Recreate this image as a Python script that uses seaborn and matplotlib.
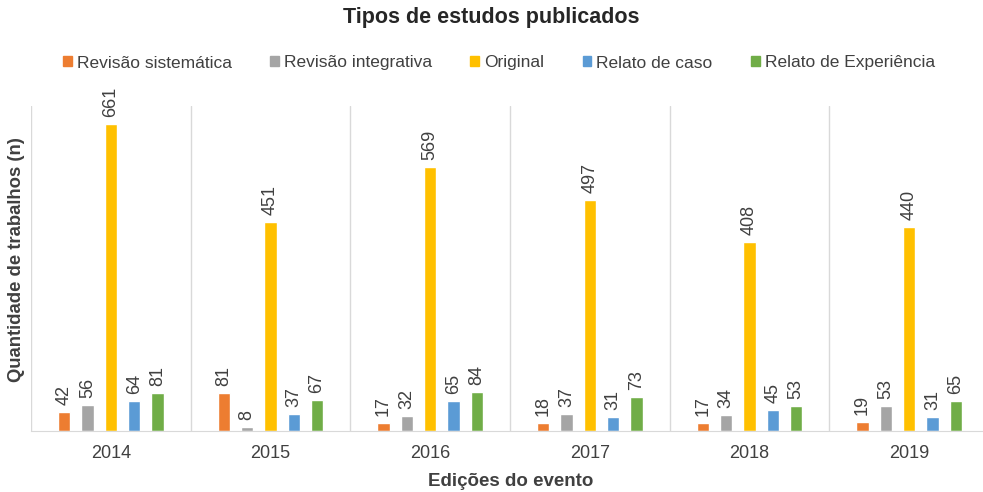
import pandas as pd
import seaborn as sns
import matplotlib
matplotlib.use("Agg")
from matplotlib import pyplot as plt
from matplotlib.patches import Patch

# data
anos = ["2014", "2015", "2016", "2017", "2018", "2019"]
tipos = ["Revisão sistemática", "Revisão integrativa", "Original", "Relato de caso", "Relato de Experiência"]
revisao_sistematica = [42, 81, 17, 18, 17, 19]
revisao_integrativa = [56, 8, 32, 37, 34, 53]
original = [661, 451, 569, 497, 408, 440]
relato_caso = [64, 37, 65, 31, 45, 31]
relato_experiencia = [81, 67, 84, 73, 53, 65]
cores = ["#ED7D31", "#A5A5A5", "#FFC000", "#5B9BD5", "#70AD47"]

series = [revisao_sistematica, revisao_integrativa, original, relato_caso, relato_experiencia]
linhas = []
for tipo, valores in zip(tipos, series):
    for ano, v in zip(anos, valores):
        linhas.append({"ano": ano, "tipo": tipo, "n": v})
df = pd.DataFrame(linhas)

sns.set_style("white")
plt.rcParams["font.family"] = ["Liberation Sans", "DejaVu Sans"]

fig = plt.figure(figsize=(9.83, 4.92), dpi=100)
ax = fig.add_axes([31/983, 1-431/492, 958/983, 325/492])

sns.barplot(data=df, x="ano", y="n", hue="tipo", hue_order=tipos, order=anos,
            palette=cores, width=0.73, gap=0.48, saturation=1, ax=ax, legend=False)

for c in ax.containers:
    ax.bar_label(c, rotation=90, padding=5, fontsize=13, color="#404040")

ax.set_ylim(0, 700)
ax.set_xlim(-0.5, 5.5)
ax.set_yticks([])
for i in range(6):
    ax.axvline(i - 0.5, color="#D9D9D9", lw=1, zorder=0)
for s in ["top", "right", "left"]:
    ax.spines[s].set_visible(False)
ax.spines["bottom"].set_color("#D9D9D9")
ax.tick_params(axis="x", length=0, pad=10, labelsize=13, labelcolor="#404040")

ax.set_xlabel("Edições do evento", fontsize=13.5, fontweight="bold", color="#404040")
ax.set_ylabel("Quantidade de trabalhos (n)", fontsize=13.3, fontweight="bold", color="#404040")
ax.xaxis.set_label_coords(0.5 + (511 - 510) / 958, -(482 - 431) / 325)
ax.yaxis.set_label_coords(-(31 - 17) / 958, (431 - 260) / 325)
ax.xaxis.label.set_va("center")
ax.yaxis.label.set_va("center")

fig.text(491/983, 1-18/492, "Tipos de estudos publicados", ha="center", va="center",
         fontsize=15.5, fontweight="bold", color="#262626")

handles = [Patch(color=c, label=t) for c, t in zip(cores, tipos)]
fig.legend(handles=handles, loc="center", bbox_to_anchor=(499/983, 1-63/492), ncol=5,
           frameon=False, fontsize=12.5, handlelength=0.5, handleheight=0.5,
           handletextpad=0.3, columnspacing=2.2, labelcolor="#404040")

fig.savefig("out.png", dpi=100)
